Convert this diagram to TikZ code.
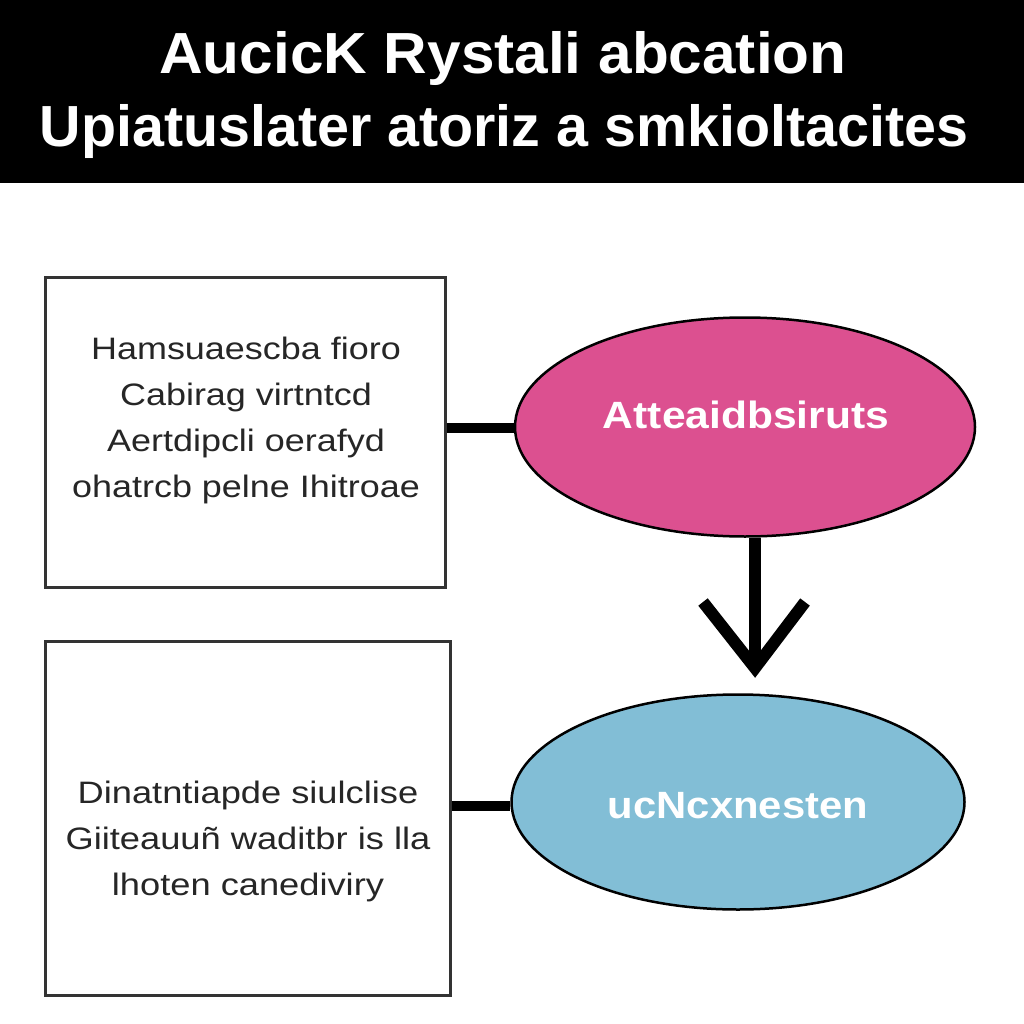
\documentclass[tikz,border=0pt]{standalone}
\usepackage{fontspec}
\setmainfont{Liberation Sans}
\usepackage{graphicx}
\usetikzlibrary{shapes.geometric}
\definecolor{pinkfill}{HTML}{DC5090}
\definecolor{bluefill}{HTML}{82BED6}
\definecolor{boxline}{HTML}{333333}
\newcommand{\stretchlines}[2]{\scalebox{#1}[1]{\begin{tabular}{@{}c@{}}#2\end{tabular}}}
\begin{document}
\begin{tikzpicture}[x=1pt,y=-1pt,
  boxnode/.style={draw=boxline,line width=3pt,fill=white,minimum width=400pt,minimum height=310pt,inner sep=0pt},
  boxtext/.style={font=\fontsize{31}{46}\selectfont,text=black!85,inner sep=0pt},
  ellnode/.style={draw=black,line width=2.5pt,ellipse,inner sep=0pt},
  elltext/.style={font=\bfseries\fontsize{38}{40}\selectfont,text=white},
  titletext/.style={font=\bfseries\fontsize{58}{64}\selectfont,text=white},
  stub/.style={line width=10pt,draw=black},
  flow/.style={line width=12pt,draw=black}]
\useasboundingbox (0,0) rectangle (1024,1024);
\fill[white] (0,0) rectangle (1024,1024);
\fill[black] (0,0) rectangle (1024,183);
\node[titletext] (t1) at (503,59) {\scalebox{1.04}[1]{AucicK Rystali abcation}};
\node[titletext] (t2) at (504,132) {\scalebox{0.99}[1]{Upiatuslater atoriz a smkioltacites}};
% boxes
\node[boxnode] (b1) at (245,432) {};
\node[boxnode,minimum width=405pt,minimum height=354pt] (b2) at (247.5,818) {};
\node[boxtext] (b1t) at (246,419) {\stretchlines{1.16}{\fontsize{31}{46}\selectfont Hamsuaescba fioro\\Cabirag virtntcd\\Aertdipcli oerafyd\\ohatrcb pelne Ihitroae}};
\node[boxtext] (b2t) at (248,840) {\stretchlines{1.17}{\fontsize{31}{46}\selectfont Dinatntiapde siulclise\\Giiteauuñ waditbr is lla\\lhoten canediviry}};
% ellipses
\node[ellnode,fill=pinkfill,minimum width=460pt,minimum height=219pt] (e1) at (745,427) {};
\node[elltext] (e1t) at (746,415) {\scalebox{1.12}[1]{Atteaidbsiruts}};
\node[ellnode,fill=bluefill,minimum width=453pt,minimum height=215pt] (e2) at (738,802) {};
\node[elltext] (e2t) at (738,806) {\scalebox{1.1}[1]{ucNcxnesten}};
% connectors
\draw[stub] (b1.east |- 0,428) -- (e1.west |- 0,428);
\draw[stub] (b2.east |- 0,806) -- (e2.west |- 0,806);
\coordinate (tip) at (755,668);
\draw[flow] (e1.south -| tip) -- (tip);
\draw[flow,line cap=butt,line join=miter] (703,602) -- (tip) -- (805,602);
\end{tikzpicture}
\end{document}
